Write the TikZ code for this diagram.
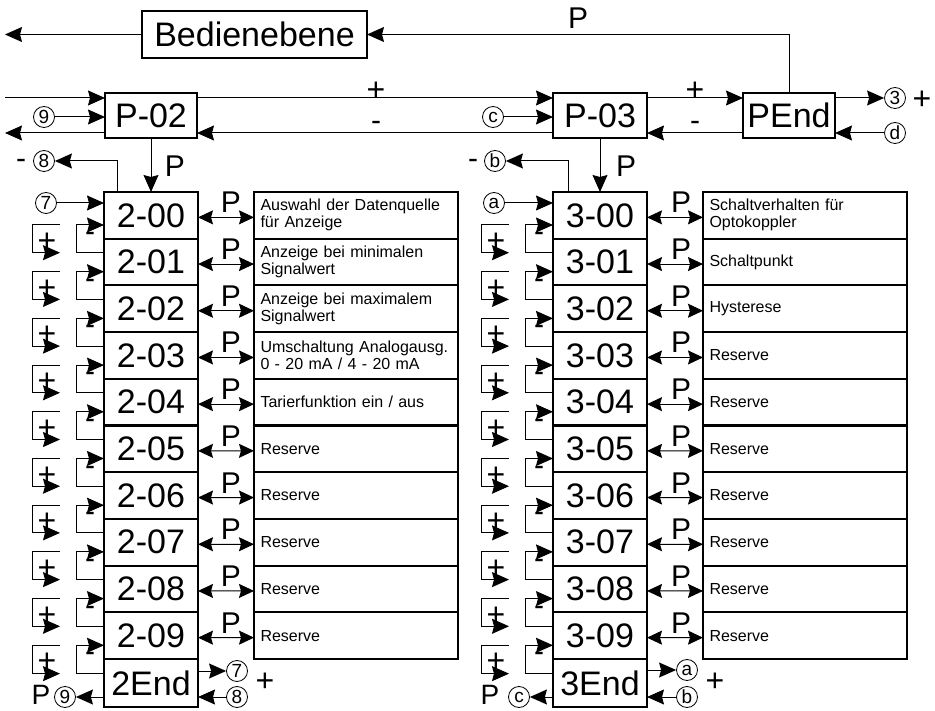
\documentclass[tikz,border=0pt]{standalone}
\usepackage{fontspec}
\setmainfont{Liberation Sans}
\usetikzlibrary{arrows.meta,calc}
\begin{document}
\hyphenpenalty=10000\relax
\begin{tikzpicture}[x=1pt,y=-1pt,
 bigbox/.style={draw,line width=2.2pt,minimum width=94pt,minimum height=46.7pt,inner sep=0pt,outer sep=0pt,font=\fontsize{34}{40}\selectfont},
 descbox/.style={draw,line width=2.2pt,minimum width=204pt,text width=191pt,minimum height=46.7pt,inner xsep=6.5pt,inner ysep=0pt,outer sep=0pt,align=left,font=\fontsize{16}{17}\selectfont},
 con/.style={line width=1pt},
 arr/.style={con,-{Stealth[length=17pt,width=15pt,inset=2pt]}},
 darr/.style={con,{Stealth[length=15pt,width=14pt,inset=2pt]}-{Stealth[length=15pt,width=14pt,inset=2pt]}},
 circ/.style={circle,draw,line width=0.8pt,minimum size=21pt,inner sep=0pt,font=\fontsize{19}{19}\selectfont},
 lbl/.style={inner sep=0pt,font=\fontsize{30}{30}\selectfont},
 plus/.style={inner sep=0pt,font=\fontsize{32}{32}\selectfont},
 minus/.style={inner sep=0pt,font=\fontsize{30}{30}\selectfont},
]
\useasboundingbox (0,0) rectangle (935,711);

% ---------- top level ----------
\node[bigbox,minimum width=225pt,minimum height=47pt] (bed) at (254.5,34.5) {Bedienebene};
\node[bigbox,minimum width=92pt,minimum height=45pt] (p02) at (151,115.5) {P-02};
\node[bigbox,minimum height=45pt] (p03) at (600,115.5) {P-03};
\node[bigbox,minimum width=92pt,minimum height=45pt] (pend) at (789,115.5) {PEnd};

\node[circ] (c9) at (44,117) {9};
\node[circ] (cc) at (493,117) {c};
\node[circ] (c3) at (895,98) {3};
\node[circ] (cd) at (895,133) {d};
\node[plus] (plus3) at (922,100) {+};
\node[lbl] (ptop) at (578,18) {P};
\node[plus] (plus1) at (376,91) {+};
\node[minus] (minus1) at (376,126) {-};
\node[plus] (plus2) at (695,91) {+};
\node[minus] (minus2) at (695,126) {-};

\coordinate (lw1) at (5,34.5);
\coordinate (in1) at (5,98);
\coordinate (out1) at (5,133);
\draw[arr] (bed.west) -- (lw1);
\draw[arr] (pend.north) |- (bed.east);
\draw[arr] (in1) -- ($(p02.west)+(0,-17.5)$);
\draw[arr] ($(p02.east)+(0,-17.5)$) -- ($(p03.west)+(0,-17.5)$);
\draw[arr] ($(p03.west)+(0,17.5)$) -- ($(p02.east)+(0,17.5)$);
\draw[arr] ($(p02.west)+(0,17.5)$) -- (out1);
\draw[arr] (c9.east) -- (c9.east -| p02.west);
\draw[arr] (cc.east) -- (cc.east -| p03.west);
\draw[arr] ($(p03.east)+(0,-17.5)$) -- ($(pend.west)+(0,-17.5)$);
\draw[arr] ($(pend.west)+(0,17.5)$) -- ($(p03.east)+(0,17.5)$);
\draw[arr] ($(pend.east)+(0,-17.5)$) -- (c3.west);
\draw[arr] (cd.west) -- (cd.west -| pend.east);

% ---------- columns ----------
\foreach \k in {0,...,9} {
  \pgfmathsetmacro\yc{192+46.7*\k+23.35}
  \node[bigbox] (a\k) at (151,\yc) {2-0\k};
  \node[bigbox] (b\k) at (600,\yc) {3-0\k};
}
\node[bigbox,minimum height=48pt] (a10) at (151,683) {2End};
\node[bigbox,minimum height=48pt] (b10) at (600,683) {3End};

\node[descbox] (da0) at (356,215.35) {Auswahl der Datenquelle\\für Anzeige};
\node[descbox] (da1) at (356,262.05) {Anzeige bei minimalen\\Signalwert};
\node[descbox] (da2) at (356,308.75) {Anzeige bei maximalem\\Signalwert};
\node[descbox] (da3) at (356,355.45) {Umschaltung Analogausg.\\0 - 20 mA / 4 - 20 mA};
\node[descbox] (da4) at (356,402.15) {Tarierfunktion ein / aus};
\node[descbox] (da5) at (356,448.85) {Reserve};
\node[descbox] (da6) at (356,495.55) {Reserve};
\node[descbox] (da7) at (356,542.25) {Reserve};
\node[descbox] (da8) at (356,588.95) {Reserve};
\node[descbox] (da9) at (356,635.65) {Reserve};

\node[descbox] (db0) at (805,215.35) {Schaltverhalten für\\Optokoppler};
\node[descbox] (db1) at (805,262.05) {Schaltpunkt};
\node[descbox] (db2) at (805,308.75) {Hysterese};
\node[descbox] (db3) at (805,355.45) {Reserve};
\node[descbox] (db4) at (805,402.15) {Reserve};
\node[descbox] (db5) at (805,448.85) {Reserve};
\node[descbox] (db6) at (805,495.55) {Reserve};
\node[descbox] (db7) at (805,542.25) {Reserve};
\node[descbox] (db8) at (805,588.95) {Reserve};
\node[descbox] (db9) at (805,635.65) {Reserve};

\draw[arr] (p02.south) -- (a0.north);
\draw[arr] (p03.south) -- (b0.north);
\node[lbl] (pa) at (175,166) {P};
\node[lbl] (pb) at (626,166) {P};

\node[circ] (c8) at (44,161) {8};
\node[minus] (m8) at (21,164) {-};
\draw[arr] ($(a0.north)+(-34,0)$) |- (c8.east);
\node[circ] (c7) at (46,203) {7};
\draw[arr] (c7.east) -- (c7.east -| a0.west);

\node[circ] (cb) at (495,161) {b};
\node[minus] (mb) at (473,164) {-};
\draw[arr] ($(b0.north)+(-32,0)$) |- (cb.east);
\node[circ] (ca) at (494,203) {a};
\draw[arr] (ca.east) -- (ca.east -| b0.west);

\foreach \k in {0,...,9} {
  \pgfmathtruncatemacro\kn{\k+1}
  \draw[darr] ($(a\k.east)+(0,2)$) -- ($(da\k.west)+(0,2)$);
  \draw[darr] ($(b\k.east)+(0,2)$) -- ($(db\k.west)+(0,2)$);
  \node[lbl] (pla\k) at ($(a\k.north)+(80,10.5)$) {P};
  \node[lbl] (plb\k) at ($(b\k.north)+(81,10.5)$) {P};
  \foreach \s in {a,b} {
    \draw[arr] ($(\s\kn.west)+(0,-9.35)$) -- ++(-28,0) |- ($(\s\k.west)+(0,9.65)$);
    \coordinate (\s o\k) at ($(\s\k.west)+(-44,9.65)$);
    \coordinate (\s e\k) at ($(\s\kn.west)+(-44,-9.35)$);
    \draw[arr] (\s o\k) -- ++(-28,0) |- (\s e\k);
    \node[minus] (\s m\k) at ($(\s\k.west)+(-14,21.6)$) {-};
    \node[plus] (\s p\k) at ($(\s\k.west)+(-57,27)$) {+};
  }
}

% ---------- end rows ----------
\node[circ] (c7b) at (237,671) {7};
\node[circ] (c8b) at (237,697) {8};
\node[plus] (pl2e) at (265,682) {+};
\draw[arr] (c7b.west -| a10.east) -- (c7b.west);
\draw[arr] (c8b.west) -- (c8b.west -| a10.east);
\node[lbl,font=\fontsize{28}{28}\selectfont] (pe9) at (41,695) {P};
\node[circ] (c9b) at (65,697) {9};
\draw[arr] (c9b.east -| a10.west) -- (c9b.east);

\node[circ] (cab) at (687,670) {a};
\node[circ] (cbb) at (687,697) {b};
\node[plus] (pl3e) at (715,682) {+};
\draw[arr] (cab.west -| b10.east) -- (cab.west);
\draw[arr] (cbb.west) -- (cbb.west -| b10.east);
\node[lbl,font=\fontsize{28}{28}\selectfont] (pec) at (490,695) {P};
\node[circ] (ccb) at (519,697) {c};
\draw[arr] (ccb.east -| b10.west) -- (ccb.east);
\end{tikzpicture}
\end{document}
